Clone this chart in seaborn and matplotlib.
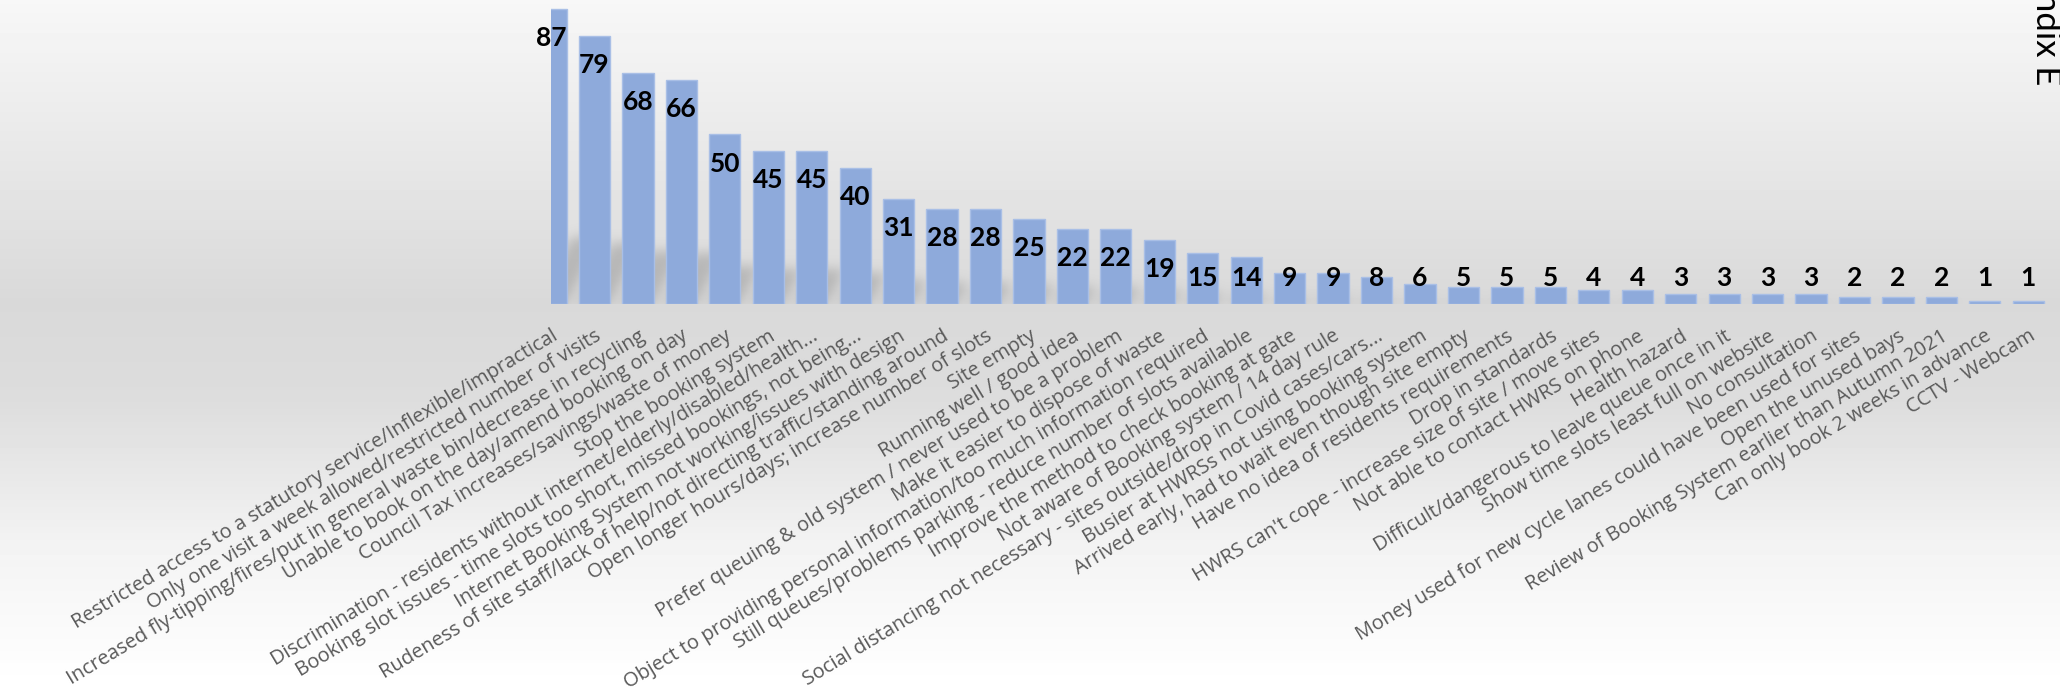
import numpy as np
import pandas as pd
import matplotlib
matplotlib.use("Agg")
import matplotlib.pyplot as plt
import seaborn as sns

# Survey comment themes and number of responses per theme
categories = [
    "Restricted access to a statutory service/Inflexible/impractical",
    "Only one visit a week allowed/restricted number of visits",
    "Increased fly-tipping/fires/put in general waste bin/decrease in recycling",
    "Unable to book on the day/amend booking on day",
    "Council Tax increases/savings/waste of money",
    "Stop the booking system",
    "Discrimination - residents without internet/elderly/disabled/health...",
    "Booking slot issues - time slots too short, missed bookings, not being...",
    "Internet Booking System not working/issues with design",
    "Rudeness of site staff/lack of help/not directing traffic/standing around",
    "Open longer hours/days; increase number of slots",
    "Site empty",
    "Running well / good idea",
    "Prefer queuing & old system / never used to be a problem",
    "Make it easier to dispose of waste",
    "Object to providing personal information/too much information required",
    "Still queues/problems parking - reduce number of slots available",
    "Improve the method to check booking at gate",
    "Not aware of Booking system / 14 day rule",
    "Social distancing not necessary - sites outside/drop in Covid cases/cars...",
    "Busier at HWRSs not using booking system",
    "Arrived early, had to wait even though site empty",
    "Have no idea of residents requirements",
    "Drop in standards",
    "HWRS can't cope - increase size of site / move sites",
    "Not able to contact HWRS on phone",
    "Health hazard",
    "Difficult/dangerous to leave queue once in it",
    "Show time slots least full on website",
    "No consultation",
    "Money used for new cycle lanes could have been used for sites",
    "Open the unused bays",
    "Review of Booking System earlier than Autumn 2021",
    "Can only book 2 weeks in advance",
    "CCTV - Webcam",
]
counts = [87, 79, 68, 66, 50, 45, 45, 40, 31, 28, 28, 25, 22, 22, 19, 15, 14,
          9, 9, 8, 6, 5, 5, 5, 4, 4, 3, 3, 3, 3, 2, 2, 2, 1, 1]
side_title = "Appendix E"

df = pd.DataFrame({"theme": categories, "count": counts})

sns.set_theme(style="white")
plt.rcParams["font.family"] = ["Lato", "DejaVu Sans"]

W, H = 2060, 687
fig = plt.figure(figsize=(W / 100, H / 100), dpi=100)

# Vertical grey gradient behind everything
bg = fig.add_axes([0, 0, 1, 1], zorder=-10)
stops_y = [0.0, 0.44, 0.58, 0.80, 1.0]
stops_v = [0.97, 0.85, 0.865, 0.955, 1.0]
yy = np.linspace(0, 1, H)
grad = np.interp(yy, stops_y, stops_v)
bg.imshow(np.repeat(grad[:, None], 4, axis=1), cmap="gray", vmin=0, vmax=1,
          aspect="auto", extent=(0, 1, 0, 1), origin="upper")
bg.set_axis_off()

# Plot area
x_left_px, base_px = 551, 304
pitch_px, unit_px = 43.45, 3.39
ax = fig.add_axes([x_left_px / W, (H - base_px) / H,
                   (W - x_left_px) / W, base_px / H])
ax.set_facecolor("none")

sns.barplot(data=df, x="theme", y="count", color="#8eaadb", width=0.72,
            saturation=1, edgecolor="#a9bfe6", linewidth=1, ax=ax, zorder=3)

xmax = (W - x_left_px) / pitch_px
ymax = base_px / unit_px

# Soft perspective shadow at the foot of each bar
nx, ny = int(W - x_left_px), int(base_px)
img = np.zeros((ny, nx))
for i, v in enumerate(counts):
    cx = i * pitch_px
    half = 0.36 * pitch_px
    sh = 0.23 * v * unit_px
    for r in range(int(sh)):
        shift = 0.55 * r
        x0 = int(max(cx - half + shift, 0))
        x1 = int(min(cx + half + shift, nx))
        if x1 > x0:
            img[ny - 1 - r, x0:x1] = 1.0
sig = 6.0
k = np.arange(-20, 21)
kern = np.exp(-0.5 * (k / sig) ** 2)
kern /= kern.sum()
img = np.apply_along_axis(lambda m: np.convolve(m, kern, mode="same"), 1, img)
img = np.apply_along_axis(lambda m: np.convolve(m, kern, mode="same"), 0, img)
rgba = np.zeros((ny, nx, 4))
rgba[..., :3] = 0.5
rgba[..., 3] = 0.4 * img
ax.imshow(rgba, extent=(0, xmax, 0, ymax), origin="upper", aspect="auto",
          zorder=1, interpolation="bilinear")
ax.set_xlim(0, xmax)
ax.set_ylim(0, ymax)

# Value labels near the top of each bar
for i, v in enumerate(counts):
    ypos = max(v - 29 / unit_px, 26 / unit_px)
    ax.text(i, ypos, f"{v}", ha="center", va="center", fontsize=19,
            fontweight="bold", color="black", clip_on=False, zorder=5)

for s in ax.spines.values():
    s.set_visible(False)
ax.set_yticks([])
ax.set_xlabel("")
ax.set_ylabel("")
ax.tick_params(axis="x", length=0, pad=16)
ax.set_xticks(range(len(categories)))
ax.set_xticklabels(categories, rotation=31, ha="right", rotation_mode="anchor",
                   fontsize=14.4, color="#595959",
                   fontfamily=["Open Sans", "DejaVu Sans"])

fig.text(2046 / W, 1 - 85 / H, side_title, rotation=-90, ha="center",
         va="bottom", fontsize=25, color="black")

fig.savefig("out.png", dpi=100)
